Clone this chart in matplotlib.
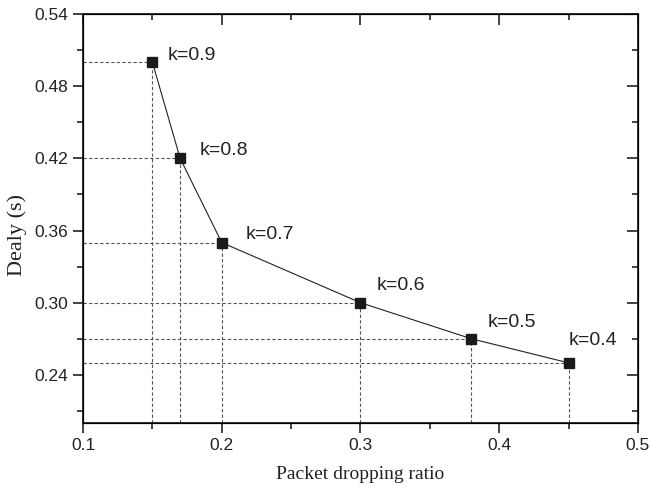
import matplotlib.pyplot as plt
from matplotlib.ticker import MultipleLocator

# packet dropping ratio vs delay for different k
drop_ratio = [0.15, 0.17, 0.20, 0.30, 0.38, 0.45]
delay = [0.50, 0.42, 0.35, 0.30, 0.27, 0.25]
k_labels = ['k=0.9', 'k=0.8', 'k=0.7', 'k=0.6', 'k=0.5', 'k=0.4']
label_offsets = [(15, 7), (20, 8), (24, 8), (16, 17), (16, 16), (0, 22)]

x_lim = (0.1, 0.5)
y_lim = (0.20, 0.54)
y_ticks = [0.24, 0.30, 0.36, 0.42, 0.48, 0.54]
x_ticks = [0.1, 0.2, 0.3, 0.4, 0.5]

fig = plt.figure(figsize=(6.5, 4.88), dpi=100)
ax = fig.add_axes([0.1277, 0.1332, 0.8538, 0.8381])

# dashed guide lines from each point to the axes
for x, y in zip(drop_ratio, delay):
    ax.plot([x_lim[0], x], [y, y], ls=(0, (3, 2)), color='#555555', lw=0.8, zorder=1)
    ax.plot([x, x], [y_lim[0], y], ls=(0, (3, 2)), color='#555555', lw=0.8, zorder=1)

ax.plot(drop_ratio, delay, color='#222222', lw=0.8, marker='s', markersize=7,
        markerfacecolor='#1a1a1a', markeredgecolor='#1a1a1a', zorder=3)

for x, y, lab, off in zip(drop_ratio, delay, k_labels, label_offsets):
    ax.annotate(lab, (x, y), xytext=off, textcoords='offset pixels',
                ha='left', va='center', fontsize=14, family='Liberation Sans',
                color='#222222')

ax.set_xlim(*x_lim)
ax.set_ylim(*y_lim)
ax.set_xticks(x_ticks)
ax.set_xticklabels([f'{v:.1f}' for v in x_ticks])
ax.xaxis.set_minor_locator(MultipleLocator(0.05))
ax.set_yticks(y_ticks)
ax.set_yticklabels([f'{v:.2f}' for v in y_ticks])
ax.yaxis.set_minor_locator(MultipleLocator(0.03))

ax.tick_params(which='major', direction='out', length=7, width=1.2,
               labelsize=12.5, colors='#222222')
ax.tick_params(which='minor', direction='out', length=4, width=1.2, colors='#222222')
for t in ax.get_xticklabels() + ax.get_yticklabels():
    t.set_family('Liberation Sans')

for s in ax.spines.values():
    s.set_linewidth(1.3)
    s.set_color('#222222')

# mirrored inward ticks on top and right
axt = ax.twiny()
axt.set_xlim(*x_lim)
axt.set_xticks(x_ticks)
axt.xaxis.set_minor_locator(MultipleLocator(0.05))
axt.tick_params(which='major', direction='in', length=8, width=1.2, labeltop=False, colors='#222222')
axt.tick_params(which='minor', direction='in', length=4, width=1.2, colors='#222222')
axr = ax.twinx()
axr.set_ylim(*y_lim)
axr.set_yticks(y_ticks)
axr.yaxis.set_minor_locator(MultipleLocator(0.03))
axr.tick_params(which='major', direction='in', length=8, width=1.2, labelright=False, colors='#222222')
axr.tick_params(which='minor', direction='in', length=4, width=1.2, colors='#222222')

ax.set_xlabel('Packet dropping ratio', family='Liberation Serif', fontsize=14,
              color='#222222')
ax.xaxis.set_label_coords(0.5, -0.105)
ax.set_ylabel('Dealy (s)', family='Liberation Serif', fontsize=16,
              color='#222222')
ax.yaxis.set_label_coords(-0.101, 0.46)

fig.savefig('out.png', dpi=100)
